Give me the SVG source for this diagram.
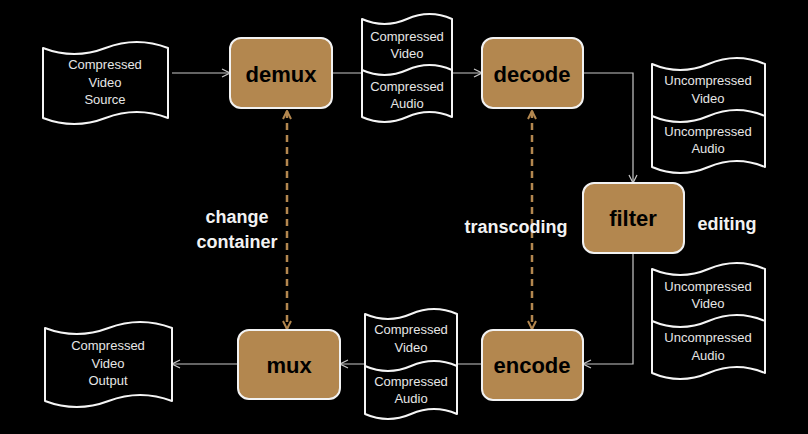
<svg xmlns="http://www.w3.org/2000/svg" width="808" height="434" viewBox="0 0 808 434">
<defs>
<style>
.bg{fill:#000}
.box{fill:#b3874f;stroke:#f2f2f2;stroke-width:2}
.lbl{font-family:"Liberation Sans",Arial,sans-serif;font-weight:bold;font-size:22px;fill:#000;text-anchor:middle}
.tape{fill:#000;stroke:#f5f5f5;stroke-width:2;stroke-linejoin:round}
.tl{fill:none;stroke:#f5f5f5;stroke-width:2}
.tt{font-family:"Liberation Sans",Arial,sans-serif;font-size:13px;fill:#e6e6e6;text-anchor:middle}
.note{font-family:"Liberation Sans",Arial,sans-serif;font-weight:bold;font-size:18px;fill:#f2f2f2;text-anchor:middle}
.con{fill:none;stroke:#c8c8c8;stroke-width:1.2}
.dash{fill:none;stroke:#b3874f;stroke-width:2.5;stroke-dasharray:7 5}
</style>
<marker id="ah" viewBox="0 0 10 10" refX="9" refY="5" markerWidth="10" markerHeight="10" markerUnits="userSpaceOnUse" orient="auto">
<path d="M1,1 L9,5 L1,9" fill="none" stroke="#c8c8c8" stroke-width="1.2"/>
</marker>
<marker id="bh" viewBox="0 0 10 10" refX="9" refY="5" markerWidth="10" markerHeight="10" markerUnits="userSpaceOnUse" orient="auto-start-reverse">
<path d="M1,1 L9,5 L1,9" fill="none" stroke="#b3874f" stroke-width="2"/>
</marker>
</defs>
<rect class="bg" x="0" y="0" width="808" height="434"/>

<g id="connectors">
<line class="con" x1="172" y1="73" x2="230" y2="73" marker-end="url(#ah)"/>
<line class="con" x1="332" y1="73" x2="482" y2="73" marker-end="url(#ah)"/>
<polyline class="con" points="583,73 633,73 633,183" marker-end="url(#ah)"/>
<polyline class="con" points="633,253 633,364 583,364" marker-end="url(#ah)"/>
<line class="con" x1="482" y1="364" x2="340" y2="364" marker-end="url(#ah)"/>
<line class="con" x1="238" y1="364" x2="172" y2="364" marker-end="url(#ah)"/>
<line class="dash" x1="287" y1="111" x2="287" y2="329" marker-start="url(#bh)" marker-end="url(#bh)"/>
<line class="dash" x1="532" y1="111" x2="532" y2="329" marker-start="url(#bh)" marker-end="url(#bh)"/>
</g>

<g id="src">
<path class="tape" d="M43,48 Q74.25,60 105.5,48 T168,48 L168,118 Q136.75,106 105.5,118 T43,118 Z"/>
<text class="tt" x="105" y="69">Compressed</text>
<text class="tt" x="105" y="87">Video</text>
<text class="tt" x="105" y="104">Source</text>
</g>

<g id="demux">
<rect class="box" x="230" y="38" width="102" height="70" rx="11"/>
<text class="lbl" x="281" y="82">demux</text>
</g>

<g id="cva-top">
<path class="tape" d="M362,19 Q384.5,29 407,19 T452,19 L452,117 Q429.5,107 407,117 T362,117 Z"/>
<path class="tl" d="M362,70 Q384.5,80 407,70 T452,70"/>
<text class="tt" x="407" y="41">Compressed</text>
<text class="tt" x="407" y="58">Video</text>
<text class="tt" x="407" y="91">Compressed</text>
<text class="tt" x="407" y="108">Audio</text>
</g>

<g id="decode">
<rect class="box" x="482" y="38" width="101" height="70" rx="11"/>
<text class="lbl" x="532" y="82">decode</text>
</g>

<g id="uva-top">
<path class="tape" d="M652,64 Q680.25,76 708.5,64 T765,64 L765,167 Q736.75,155 708.5,167 T652,167 Z"/>
<path class="tl" d="M652,116 Q680.25,128 708.5,116 T765,116"/>
<text class="tt" x="708" y="85">Uncompressed</text>
<text class="tt" x="708" y="103">Video</text>
<text class="tt" x="708" y="136">Uncompressed</text>
<text class="tt" x="708" y="153">Audio</text>
</g>

<g id="filter">
<rect class="box" x="583" y="183" width="101" height="70" rx="11"/>
<text class="lbl" x="633" y="226">filter</text>
</g>

<g id="editing">
<text class="note" x="727" y="230">editing</text>
</g>

<g id="uva-bottom">
<path class="tape" d="M652,269 Q680.25,281 708.5,269 T765,269 L765,373 Q736.75,361 708.5,373 T652,373 Z"/>
<path class="tl" d="M652,321 Q680.25,333 708.5,321 T765,321"/>
<text class="tt" x="708" y="291">Uncompressed</text>
<text class="tt" x="708" y="308">Video</text>
<text class="tt" x="708" y="342">Uncompressed</text>
<text class="tt" x="708" y="360">Audio</text>
</g>

<g id="encode">
<rect class="box" x="482" y="330" width="101" height="70" rx="11"/>
<text class="lbl" x="532" y="373">encode</text>
</g>

<g id="cva-bottom">
<path class="tape" d="M365,314 Q388,324 411,314 T457,314 L457,414 Q434,404 411,414 T365,414 Z"/>
<path class="tl" d="M365,366 Q388,376 411,366 T457,366"/>
<text class="tt" x="411" y="334">Compressed</text>
<text class="tt" x="411" y="352">Video</text>
<text class="tt" x="411" y="386">Compressed</text>
<text class="tt" x="411" y="403">Audio</text>
</g>

<g id="mux">
<rect class="box" x="238" y="330" width="102" height="69" rx="11"/>
<text class="lbl" x="289" y="373">mux</text>
</g>

<g id="out">
<path class="tape" d="M45,328 Q76.75,340 108.5,328 T172,328 L172,401 Q140.25,389 108.5,401 T45,401 Z"/>
<text class="tt" x="108" y="350">Compressed</text>
<text class="tt" x="108" y="368">Video</text>
<text class="tt" x="108" y="385">Output</text>
</g>

<g id="labels">
<text class="note" x="237" y="223">change</text>
<text class="note" x="237" y="248">container</text>
<text class="note" x="516" y="233">transcoding</text>
</g>
</svg>
